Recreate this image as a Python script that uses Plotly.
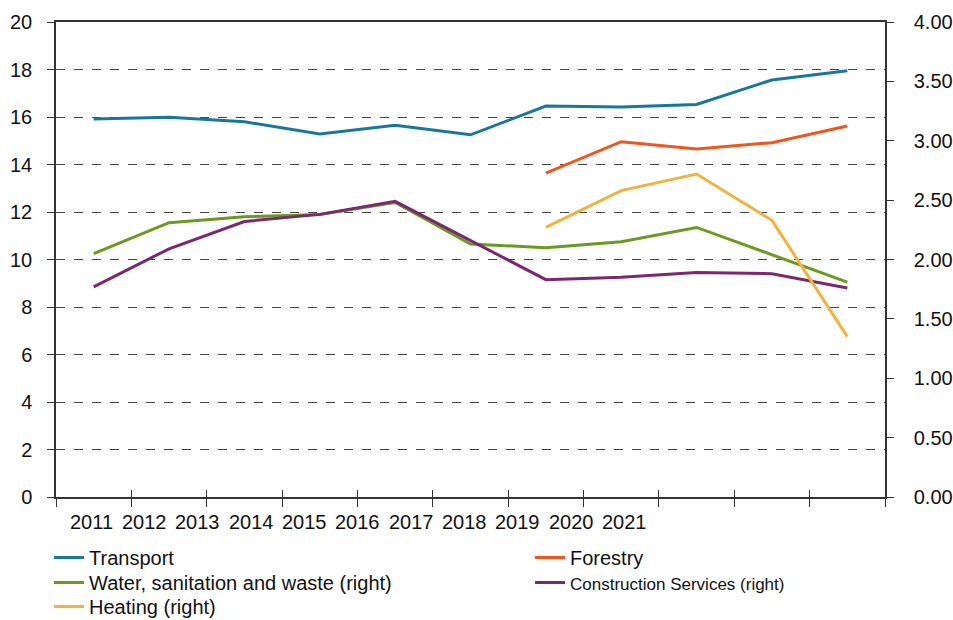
import plotly.graph_objects as go

years = [2011, 2012, 2013, 2014, 2015, 2016, 2017, 2018, 2019, 2020, 2021]
tick_labels = ["2011", "2012", "2013", "2014", "2015", "2016", "2017", "2018", "2019", "2020", "2021"]

transport = [15.92, 15.99, 15.80, 15.28, 15.65, 15.25, 16.46, 16.42, 16.53, 17.56, 17.95]
forestry = [None, None, None, None, None, None, 13.64, 14.96, 14.65, 14.92, 15.62]
water = [2.05, 2.31, 2.36, 2.38, 2.48, 2.13, 2.10, 2.15, 2.27, 2.04, 1.81]
construction = [1.77, 2.09, 2.32, 2.38, 2.49, 2.16, 1.83, 1.85, 1.89, 1.88, 1.76]
heating = [None, None, None, None, None, None, 2.27, 2.58, 2.72, 2.33, 1.35]

FONT = "Liberation Sans, Arial, sans-serif"
AX = "#333333"

fig = go.Figure()
fig.add_trace(go.Scatter(x=years, y=transport, name="Transport", mode="lines",
                         line=dict(color="#17779f", width=3), yaxis="y", legend="legend"))
fig.add_trace(go.Scatter(x=years, y=forestry, name="Forestry", mode="lines",
                         line=dict(color="#f2561d", width=3), yaxis="y", legend="legend2"))
fig.add_trace(go.Scatter(x=years, y=water, name="Water, sanitation and waste (right)", mode="lines",
                         line=dict(color="#6a9a1f", width=3), yaxis="y2", legend="legend3"))
fig.add_trace(go.Scatter(x=years, y=construction,
                         name="<span style='font-size:17px'>Construction Services (right)</span>",
                         mode="lines", line=dict(color="#7b2870", width=3), yaxis="y2",
                         legend="legend4"))
fig.add_trace(go.Scatter(x=years, y=heating, name="Heating (right)", mode="lines",
                         line=dict(color="#f0b240", width=3), yaxis="y2", legend="legend5"))

x0, x1 = 56, 885
bounds = [years[0] - 0.5 + i for i in range(len(years) + 1)]
leg_common = dict(orientation="v", xref="container", yref="container",
                  xanchor="left", yanchor="top", itemwidth=30,
                  font=dict(size=20, family=FONT, color="#111111"),
                  bgcolor="rgba(0,0,0,0)", traceorder="normal")
col1, col2 = 49, 530
row_tops = [538, 563, 587]
fig.update_layout(
    width=953, height=620,
    margin=dict(l=56, r=953 - 885, t=22, b=620 - 497, autoexpand=False),
    paper_bgcolor="white", plot_bgcolor="white",
    font=dict(family=FONT, size=20, color="#111111"),
    xaxis=dict(range=[years[0] - 0.5, years[-1] + 0.5], tickvals=bounds, showticklabels=False,
               ticks="outside", ticklen=8, tickcolor=AX, tickwidth=1,
               showline=True, linecolor=AX, linewidth=1.5, mirror=True,
               showgrid=False, zeroline=False),
    xaxis2=dict(range=[years[0] - 0.5, years[-1] + 0.5], tickvals=bounds, showticklabels=False,
                ticks="inside", ticklen=7, tickcolor=AX, tickwidth=1, overlaying="x",
                showline=False, showgrid=False, zeroline=False),
    yaxis=dict(range=[0, 20], dtick=2, ticks="outside", ticklen=7, tickcolor=AX,
               showline=True, linecolor=AX, linewidth=1.5,
               showgrid=True, gridcolor="#444444", gridwidth=1, griddash="dash",
               zeroline=False, ticklabelstandoff=11, tickfont=dict(size=20)),
    yaxis2=dict(range=[0, 4], dtick=0.5, tickformat=".2f", overlaying="y", side="right",
                ticks="outside", ticklen=7, tickcolor=AX,
                showline=True, linecolor=AX, linewidth=1.5, showgrid=False, zeroline=False,
                ticklabelstandoff=16, tickfont=dict(size=20)),
    legend=dict(x=col1 / 953, y=1 - row_tops[0] / 620, **leg_common),
    legend2=dict(x=col2 / 953, y=1 - row_tops[0] / 620, **leg_common),
    legend3=dict(x=col1 / 953, y=1 - row_tops[1] / 620, **leg_common),
    legend4=dict(x=col2 / 953, y=1 - row_tops[1] / 620, **leg_common),
    legend5=dict(x=col1 / 953, y=1 - row_tops[2] / 620, **leg_common),
    showlegend=True,
)
# helper trace to activate xaxis2 (inside tick marks)
fig.add_trace(go.Scatter(x=[years[0]], y=[None], xaxis="x2", showlegend=False, hoverinfo="skip"))

# Year labels (as placed in the original, packed left)
label_start, label_step = 91.3, 53.3
for i, lab in enumerate(tick_labels):
    px = label_start + label_step * i
    fig.add_annotation(text=lab, xref="paper", yref="paper",
                       x=(px - x0) / (x1 - x0), y=0, yshift=-25, xanchor="center", yanchor="middle",
                       showarrow=False, font=dict(size=20, family=FONT, color="#111111"))

fig.write_html("out.html")
